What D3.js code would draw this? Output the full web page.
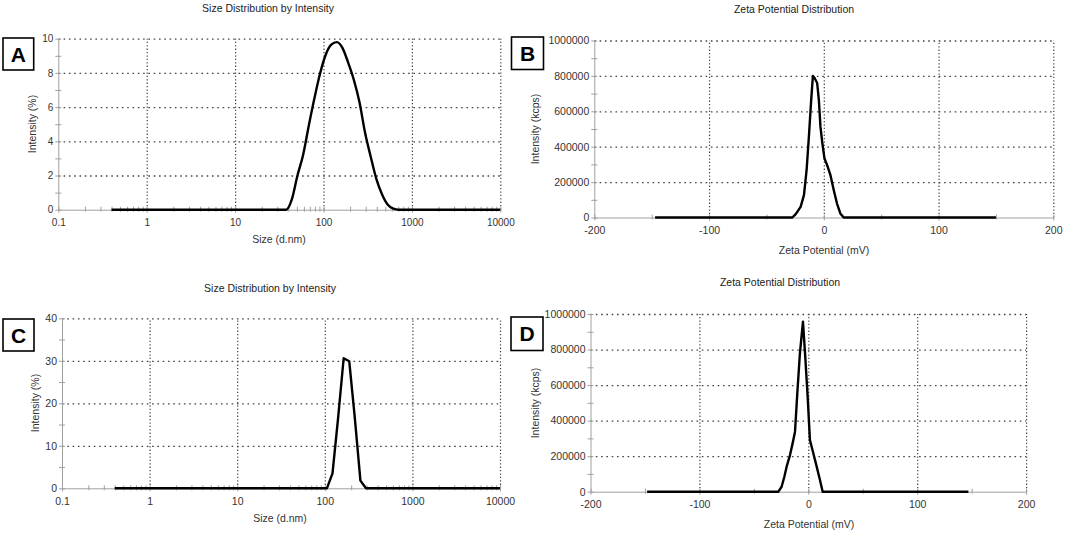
<!DOCTYPE html>
<html>
<head>
<meta charset="utf-8">
<script src="https://cdn.jsdelivr.net/npm/d3@7/dist/d3.min.js"></script>
<style>
  body { margin: 0; background: #fff; }
  text { font-family: "Liberation Sans", Arial, sans-serif; fill: #333; }
  .domain { stroke: #a0a0a0; }
  .tick line { stroke: #a0a0a0; }
  .grid .tick line { stroke: #444; }
  .grid .domain { display: none; }
</style>
</head>
<body>
<script>
// size classes (d.nm)
var sizeBins = [0.4, 0.4632, 0.5365, 0.6213, 0.7195, 0.8332, 0.9649, 1.117, 1.294, 1.499,
  1.736, 2.010, 2.328, 2.696, 3.122, 3.615, 4.187, 4.849, 5.615, 6.503,
  7.531, 8.721, 10.10, 11.70, 13.54, 15.69, 18.17, 21.04, 24.36, 28.21,
  32.67, 37.84, 43.82, 50.75, 58.77, 68.06, 78.82, 91.28, 105.7, 122.4,
  141.8, 164.2, 190.1, 220.2, 255.0, 295.3, 342.0, 396.1, 458.7, 531.2,
  615.1, 712.4, 825.0, 955.4, 1106, 1281, 1484, 1718, 1990, 2305,
  2669, 3091, 3580, 4145, 4801, 5560, 6439, 7456, 8635, 10000];

var intensityA = [0, 0, 0, 0, 0, 0, 0, 0, 0, 0,
  0, 0, 0, 0, 0, 0, 0, 0, 0, 0,
  0, 0, 0, 0, 0, 0, 0, 0, 0, 0,
  0, 0, 0.6, 2.0, 3.2, 4.9, 6.5, 7.95, 9.05, 9.65,
  9.8, 9.45, 8.6, 7.6, 6.3, 4.5, 3.1, 1.8, 0.9, 0.3,
  0.06, 0, 0, 0, 0, 0, 0, 0, 0, 0,
  0, 0, 0, 0, 0, 0, 0, 0, 0, 0];

var intensityC = [0, 0, 0, 0, 0, 0, 0, 0, 0, 0,
  0, 0, 0, 0, 0, 0, 0, 0, 0, 0,
  0, 0, 0, 0, 0, 0, 0, 0, 0, 0,
  0, 0, 0, 0, 0, 0, 0, 0, 0, 3.5,
  16.5, 30.6, 29.9, 16.5, 1.8, 0, 0, 0, 0, 0,
  0, 0, 0, 0, 0, 0, 0, 0, 0, 0,
  0, 0, 0, 0, 0, 0, 0, 0, 0, 0];

var zetaB = [-147, -27.4, -24.5, -20.2, -17.3, -15, -13, -11, -9.5, -7.8, -5.8, -4.3, -2.9, -1.4, 0.6, 2.9, 5.8, 8.7, 11.5, 14.4, 17.3, 150];
var countsB = [0, 0, 19000, 60000, 126000, 267000, 456000, 663000, 800000, 785000, 760000, 663000, 512000, 427000, 333000, 296000, 239000, 154000, 79000, 23000, 0, 0];

var zetaD = [-148, -27.5, -24.5, -22, -19.9, -16.8, -14.4, -12.2, -10.1, -7.7, -4.9, -2.8, -0.6, 1.5, 4.6, 7.7, 10.7, 13.2, 147];
var countsD = [0, 0, 28000, 84000, 141000, 206000, 272000, 338000, 553000, 779000, 957000, 760000, 535000, 291000, 216000, 141000, 66000, 0, 0];

var sizeTicks = [0.1, 1, 10, 100, 1000, 10000];
var sizeMinor = [];
[0.1, 1, 10, 100, 1000].forEach(function(d) {
  for (var k = 2; k < 10; k++) sizeMinor.push(d * k);
});
var zetaTicks = [-200, -100, 0, 100, 200];
var zetaMinor = [-150, -50, 50, 150];
var pctTicksA = [0, 2, 4, 6, 8, 10];
var pctMinorA = [1, 3, 5, 7, 9];
var pctTicksC = [0, 10, 20, 30, 40];
var pctMinorC = [5, 15, 25, 35];
var kcpsTicks = [0, 200000, 400000, 600000, 800000, 1000000];
var kcpsMinor = [100000, 300000, 500000, 700000, 900000];

var svg = d3.select("body")
  .append("svg")
  .attr("width", 1065)
  .attr("height", 534);

function drawPanel(p) {
  var g = svg.append("g");
  var x = (p.log ? d3.scaleLog() : d3.scaleLinear()).domain(p.xDomain).range(p.xRange);
  var y = d3.scaleLinear().domain(p.yDomain).range(p.yRange);
  var w = p.xRange[1] - p.xRange[0];
  var h = p.yRange[0] - p.yRange[1];
  var x0 = p.xRange[0], y0 = p.yRange[0];

  // dotted grid
  g.append("g").attr("class", "grid")
    .attr("transform", "translate(0," + y0 + ")")
    .call(d3.axisBottom(x).tickValues(p.xTicks.slice(1)).tickSize(-h).tickFormat(""))
    .selectAll("line").attr("stroke-dasharray", "1.3,2.1").attr("stroke-width", 1.2);
  g.append("g").attr("class", "grid")
    .attr("transform", "translate(" + x0 + ",0)")
    .call(d3.axisLeft(y).tickValues(p.yTicks.slice(1)).tickSize(-w).tickFormat(""))
    .selectAll("line").attr("stroke-dasharray", "1.6,3.7").attr("stroke-width", 1.3);

  // axes
  var xa = g.append("g")
    .attr("transform", "translate(0," + y0 + ")")
    .call(d3.axisBottom(x).tickValues(p.xTicks).tickSize(3).tickSizeOuter(0).tickPadding(6)
      .tickFormat(function(d) { return String(d); }));
  xa.selectAll(".tick line").attr("y1", -3);
  xa.selectAll("text").style("font-size", p.tickFont + "px");

  g.append("g")
    .attr("transform", "translate(0," + y0 + ")")
    .call(d3.axisBottom(x).tickValues(p.xMinor).tickSize(2).tickSizeOuter(0).tickFormat(""))
    .call(function(s) { s.select(".domain").remove(); })
    .selectAll(".tick line").attr("y1", -3);

  var ya = g.append("g")
    .attr("transform", "translate(" + x0 + ",0)")
    .call(d3.axisLeft(y).tickValues(p.yTicks).tickSize(3).tickSizeOuter(0).tickPadding(2)
      .tickFormat(function(d) { return String(d); }));
  ya.selectAll(".tick line").attr("x1", 3);
  ya.selectAll("text").style("font-size", p.tickFont + "px");

  g.append("g")
    .attr("transform", "translate(" + x0 + ",0)")
    .call(d3.axisLeft(y).tickValues(p.yMinor).tickSize(3).tickSizeOuter(0).tickFormat(""))
    .call(function(s) { s.select(".domain").remove(); })
    .selectAll(".tick line").attr("x1", 3);

  // data line
  var line = d3.line()
    .x(function(d) { return x(d[0]); })
    .y(function(d) { return y(d[1]); })
    .curve(p.smooth ? d3.curveMonotoneX : d3.curveLinear);
  g.append("path")
    .datum(d3.zip(p.xs, p.ys))
    .attr("d", line)
    .attr("fill", "none")
    .attr("stroke", "#000")
    .attr("stroke-width", 2.4)
    .attr("stroke-linejoin", "round");

  // titles
  g.append("text").attr("x", p.title[1]).attr("y", p.title[2])
    .attr("text-anchor", "middle").style("font-size", "10.5px").style("fill", "#222")
    .text(p.title[0]);
  g.append("text").attr("x", p.xTitle[1]).attr("y", p.xTitle[2])
    .attr("text-anchor", "middle").style("font-size", "10.5px")
    .text(p.xTitle[0]);
  g.append("text")
    .attr("transform", "translate(" + p.yTitle[1] + "," + p.yTitle[2] + ") rotate(-90)")
    .attr("text-anchor", "middle").attr("dy", "0.35em").style("font-size", "10.5px")
    .text(p.yTitle[0]);

  // panel letter box
  var b = p.box;
  g.append("rect").attr("x", b[1]).attr("y", b[2]).attr("width", b[3]).attr("height", b[4])
    .attr("fill", "#fff").attr("stroke", "#000").attr("stroke-width", 1.6);
  g.append("text").attr("x", b[1] + b[3] / 2).attr("y", b[2] + b[4] / 2)
    .attr("dy", "0.36em").attr("text-anchor", "middle")
    .style("font-size", "21px").style("font-weight", "bold").style("fill", "#000")
    .text(b[0]);
}

drawPanel({
  log: true, xDomain: [0.1, 10000], xRange: [58.3, 500.3], yDomain: [0, 10], yRange: [209.7, 38.7],
  xTicks: sizeTicks, xMinor: sizeMinor, yTicks: pctTicksA, yMinor: pctMinorA,
  xs: sizeBins, ys: intensityA, smooth: true, tickFont: 10,
  title: ["Size Distribution by Intensity", 268, 12],
  xTitle: ["Size (d.nm)", 279, 243],
  yTitle: ["Intensity (%)", 32, 124],
  box: ["A", 3, 38, 30.7, 32]
});

drawPanel({
  log: false, xDomain: [-200, 200], xRange: [594.3, 1053.3], yDomain: [0, 1000000], yRange: [217.5, 40.5],
  xTicks: zetaTicks, xMinor: zetaMinor, yTicks: kcpsTicks, yMinor: kcpsMinor,
  xs: zetaB, ys: countsB, smooth: false, tickFont: 10.5,
  title: ["Zeta Potential Distribution", 794, 13],
  xTitle: ["Zeta Potential (mV)", 824, 254],
  yTitle: ["Intensity (kcps)", 535.7, 129],
  box: ["B", 511.5, 37, 32, 32.5]
});

drawPanel({
  log: true, xDomain: [0.1, 10000], xRange: [62, 500], yDomain: [0, 40], yRange: [488.3, 318.3],
  xTicks: sizeTicks, xMinor: sizeMinor, yTicks: pctTicksC, yMinor: pctMinorC,
  xs: sizeBins, ys: intensityC, smooth: false, tickFont: 10.5,
  title: ["Size Distribution by Intensity", 270, 292],
  xTitle: ["Size (d.nm)", 280, 521.5],
  yTitle: ["Intensity (%)", 35.7, 403],
  box: ["C", 3, 319, 31, 32]
});

drawPanel({
  log: false, xDomain: [-200, 200], xRange: [590.5, 1026.1], yDomain: [0, 1000000], yRange: [491.7, 314],
  xTicks: zetaTicks, xMinor: zetaMinor, yTicks: kcpsTicks, yMinor: kcpsMinor,
  xs: zetaD, ys: countsD, smooth: false, tickFont: 10.5,
  title: ["Zeta Potential Distribution", 780, 286],
  xTitle: ["Zeta Potential (mV)", 809, 528],
  yTitle: ["Intensity (kcps)", 535.7, 403],
  box: ["D", 511, 317, 32, 33.5]
});
</script>
</body>
</html>
